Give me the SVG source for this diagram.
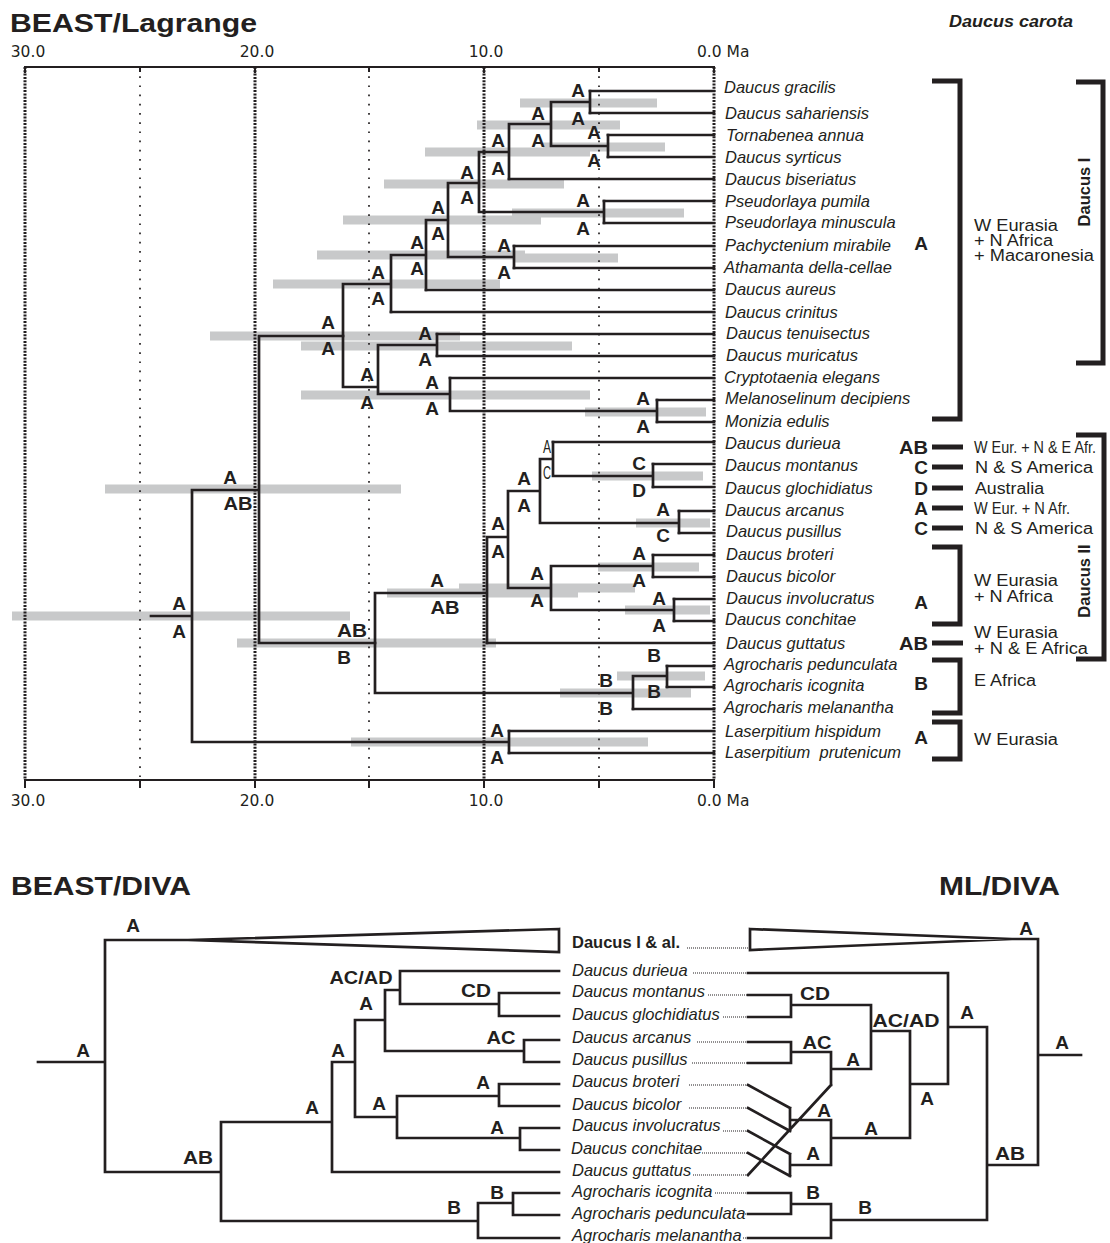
<svg xmlns="http://www.w3.org/2000/svg" width="1110" height="1243" viewBox="0 0 1110 1243">
<style>
.tr{stroke:#231f20;stroke-width:2.7;fill:none;stroke-linecap:square;stroke-linejoin:miter}
.bar{fill:#c8c9ca}
.g1{stroke:#231f20;stroke-width:3;stroke-dasharray:2 1.3;fill:none}
.g2{stroke:#231f20;stroke-width:1.7;stroke-dasharray:1.7 7.5;fill:none}
.ax{stroke:#231f20;stroke-width:2;fill:none}
.br{stroke:#231f20;stroke-width:5;fill:none;stroke-linejoin:miter}
.ld{stroke:#231f20;stroke-width:1.1;stroke-dasharray:1 1;fill:none}
.tx{font-family:"Liberation Sans",Arial,sans-serif;font-style:italic;font-size:16.5px;fill:#231f20}
.tb{font-family:"Liberation Sans",Arial,sans-serif;font-weight:bold;font-size:16.5px;fill:#231f20}
.nl{font-family:"Liberation Sans",Arial,sans-serif;font-weight:bold;font-size:19px;fill:#231f20;text-anchor:middle}
.sm{font-family:"Liberation Sans",Arial,sans-serif;font-size:19px;fill:#231f20;text-anchor:middle}
.rl{font-family:"Liberation Sans",Arial,sans-serif;font-weight:bold;font-size:19px;fill:#231f20;text-anchor:end}
.rg{font-family:"Liberation Sans",Arial,sans-serif;font-size:16px;fill:#231f20}
.ttl{font-family:"Liberation Sans",Arial,sans-serif;font-weight:bold;font-size:26px;fill:#231f20}
.num{font-family:"DejaVu Sans",sans-serif;font-size:15.5px;fill:#231f20}
</style>
<rect width="1110" height="1243" fill="#ffffff"/>

<g id="titles">
<text class="ttl" x="10" y="32" textLength="247" lengthAdjust="spacingAndGlyphs">BEAST/Lagrange</text>
<text class="tb" x="949" y="27" font-style="italic" font-size="16" textLength="124" lengthAdjust="spacingAndGlyphs">Daucus carota</text>
<text class="ttl" x="11" y="895" textLength="180" lengthAdjust="spacingAndGlyphs">BEAST/DIVA</text>
<text class="ttl" x="939" y="895" textLength="121" lengthAdjust="spacingAndGlyphs">ML/DIVA</text>
</g>

<g id="hpd-bars">
<rect class="bar" x="520" y="98.5" width="137" height="9"/>
<rect class="bar" x="477" y="120.5" width="143" height="9"/>
<rect class="bar" x="543" y="142.5" width="122" height="9"/>
<rect class="bar" x="425" y="147.5" width="165" height="9"/>
<rect class="bar" x="384" y="179.5" width="180" height="9"/>
<rect class="bar" x="512" y="208.5" width="172" height="9"/>
<rect class="bar" x="343" y="215.5" width="198" height="9"/>
<rect class="bar" x="317" y="250.5" width="208" height="9"/>
<rect class="bar" x="515" y="253.5" width="103" height="9"/>
<rect class="bar" x="273" y="279.5" width="227" height="9"/>
<rect class="bar" x="210" y="331.5" width="250" height="9"/>
<rect class="bar" x="301" y="341.5" width="271" height="9"/>
<rect class="bar" x="301" y="390.5" width="289" height="9"/>
<rect class="bar" x="585" y="407.5" width="121" height="9"/>
<rect class="bar" x="592" y="471.5" width="111" height="9"/>
<rect class="bar" x="105" y="484.5" width="296" height="9"/>
<rect class="bar" x="636" y="518.5" width="74" height="9"/>
<rect class="bar" x="598" y="562.5" width="101" height="9"/>
<rect class="bar" x="459" y="583.5" width="176" height="9"/>
<rect class="bar" x="387" y="588.5" width="191" height="9"/>
<rect class="bar" x="625" y="605.5" width="85" height="9"/>
<rect class="bar" x="237" y="638.5" width="259" height="9"/>
<rect class="bar" x="617" y="671.5" width="88" height="9"/>
<rect class="bar" x="560" y="688.5" width="131" height="9"/>
<rect class="bar" x="351" y="737.5" width="297" height="9"/>
<rect class="bar" x="12" y="611.5" width="338" height="9"/>
</g>

<g id="time-axis">
<path class="g1" d="M25 67V780M255 67V780M484 67V780M714 67V780"/>
<path class="g2" d="M140 67V780M369 67V780M599 67V780"/>
<path class="ax" d="M24 67H715M25 67V73M140 67V72M255 67V73M369 67V72M484 67V73M599 67V72M714 67V73"/>
<path class="ax" d="M24 780H715M25 780V788M140 780V788M255 780V788M369 780V788M484 780V788M599 780V788M714 780V788"/>
<text class="num" x="28" y="57" text-anchor="middle">30.0</text>
<text class="num" x="257" y="57" text-anchor="middle">20.0</text>
<text class="num" x="486" y="57" text-anchor="middle">10.0</text>
<text class="num" x="697" y="57">0.0 Ma</text>
<text class="num" x="28" y="806" text-anchor="middle">30.0</text>
<text class="num" x="257" y="806" text-anchor="middle">20.0</text>
<text class="num" x="486" y="806" text-anchor="middle">10.0</text>
<text class="num" x="697" y="806">0.0 Ma</text>
</g>

<g id="connectors">
<path class="tr" d="M590 91H714M590 113H714M608 135H714M608 157H714M509 179H714M604 201H714M604 223H714M514 246H714M514 268H714M426 290H714M391 312H714M437 334H714M437 356H714M450 378H714M657 400H714M657 422H714M553 442H714M653 464H714M653 487H714M679 511H714M679 533H714M653 555H714M653 577H714M674 599H714M674 621H714M487 643H714M667 666H714M667 687H714M633 709H714M509 731H714M509 753H714"/>
<path class="tr" d="M590 91V113M551 102H590M608 135V157M551 146H608M551 102V146M509 124H551M509 124V179M479 152H509M479 152V212H604M604 201V223M448 183V257M448 183H479M448 257H514M514 246V268M426 220V290M426 220H448M391 255V312M391 255H426M343 284V387M343 284H391M343 387H378M378 345V394M378 345H437M378 394H450M437 334V356M450 378V411H657M657 400V422"/>
<path class="tr" d="M259 336V643M259 336H343M259 643H375M192 490V742M192 490H259M192 742H509M151 616H192M509 731V753"/>
<path class="tr" d="M375 593V693M375 593H487M375 693H633M487 537V643M487 537H508M508 491V588M508 491H540M508 588H551M540 459V523M540 459H553M540 523H679M553 442V476H653M653 464V487M679 511V533M551 566V610M551 566H653M551 610H674M653 555V577M674 599V621M633 676V709M633 676H667M667 666V687"/>
<path class="tr" d="M559 929L188 940L559 952ZM105 940H188M38 1062H105M105 940V1172H221M221 1122V1221M221 1122H332M221 1221H478M332 1062V1172M332 1062H355M332 1172H559M355 1020V1117M355 1020H385M355 1117H397M385 990V1051M385 990H400M385 1051H524M400 971V1004M400 971H559M400 1004H499M499 993V1016M499 993H559M499 1016H559M524 1040V1062M524 1040H559M524 1062H559M397 1096V1138M397 1096H499M397 1138H520M499 1084V1106M499 1084H559M499 1106H559M520 1128V1150M520 1128H559M520 1150H559M478 1203V1238M478 1203H513M478 1238H559M513 1193V1215M513 1193H559M513 1215H559"/>
<path class="tr" d="M750 929L1012 939L750 950ZM1012 939H1038M1038 939V1165M1038 1055H1081M987 1165H1038M987 1027V1220M948 1027H987M831 1220H987M948 973V1084M748 973H948M910 1084H948M910 1031V1138M871 1031H910M831 1138H910M871 1005V1069M791 1005H871M831 1069H871M791 995V1017M748 995H791M748 1017H791M831 1052V1085M791 1052H831M831 1085L748 1175M791 1042V1063M748 1042H791M748 1063H791M831 1120V1165M790 1120H831M790 1165H831M790 1108V1131M790 1154V1176M748 1085L790 1108M748 1108L790 1131M748 1131L790 1154M748 1153L790 1176M791 1193V1214M748 1193H791M748 1214H791M791 1204H831M831 1204V1238M748 1238H831"/>
<path class="ld" d="M687 948H748M693 973H748M708 995H748M723 1017H748M697 1042H748M692 1063H748M689 1085H748M689 1108H748M723 1131H748M702 1153H748M693 1175H748M715 1193H748M745 1214H748M743 1238H748"/>
</g>

<g id="brackets">
<path class="br" d="M932 81H960V419H932"/>
<path class="br" d="M1076 82H1103V363H1076"/>
<path class="br" d="M932 447H963M932 467H963M932 488H963M932 508H963M932 528H963M932 643H963"/>
<path class="br" d="M932 547H960V624H932"/>
<path class="br" d="M932 660H960V713H932"/>
<path class="br" d="M932 722H960V759H932"/>
<path class="br" d="M1076 435H1104V659H1076"/>
<text class="tb" transform="translate(1090,192) rotate(-90)" text-anchor="middle">Daucus I</text>
<text class="tb" transform="translate(1090,581) rotate(-90)" text-anchor="middle">Daucus II</text>
</g>

<g id="area-labels">
<text class="rl" x="928" y="250">A</text>
<text class="rl" x="928" y="454" textLength="29" lengthAdjust="spacingAndGlyphs">AB</text>
<text class="rl" x="928" y="474">C</text>
<text class="rl" x="928" y="495">D</text>
<text class="rl" x="928" y="515">A</text>
<text class="rl" x="928" y="535">C</text>
<text class="rl" x="928" y="609">A</text>
<text class="rl" x="928" y="650" textLength="29" lengthAdjust="spacingAndGlyphs">AB</text>
<text class="rl" x="928" y="690">B</text>
<text class="rl" x="928" y="744">A</text>
<text class="rg" x="974" y="231" textLength="84" lengthAdjust="spacingAndGlyphs">W Eurasia</text>
<text class="rg" x="974" y="246" textLength="79" lengthAdjust="spacingAndGlyphs">+ N Africa</text>
<text class="rg" x="974" y="261" textLength="120" lengthAdjust="spacingAndGlyphs">+ Macaronesia</text>
<text class="rg" x="974" y="453" textLength="122" lengthAdjust="spacingAndGlyphs">W Eur. + N &amp; E Afr.</text>
<text class="rg" x="975" y="473" textLength="118" lengthAdjust="spacingAndGlyphs">N &amp; S America</text>
<text class="rg" x="975" y="494" textLength="69" lengthAdjust="spacingAndGlyphs">Australia</text>
<text class="rg" x="974" y="514" textLength="96" lengthAdjust="spacingAndGlyphs">W Eur. + N Afr.</text>
<text class="rg" x="975" y="534" textLength="118" lengthAdjust="spacingAndGlyphs">N &amp; S America</text>
<text class="rg" x="974" y="586" textLength="84" lengthAdjust="spacingAndGlyphs">W Eurasia</text>
<text class="rg" x="974" y="602" textLength="79" lengthAdjust="spacingAndGlyphs">+ N Africa</text>
<text class="rg" x="974" y="638" textLength="84" lengthAdjust="spacingAndGlyphs">W Eurasia</text>
<text class="rg" x="974" y="654" textLength="114" lengthAdjust="spacingAndGlyphs">+ N &amp; E Africa</text>
<text class="rg" x="974" y="686" textLength="62" lengthAdjust="spacingAndGlyphs">E Africa</text>
<text class="rg" x="974" y="745" textLength="84" lengthAdjust="spacingAndGlyphs">W Eurasia</text>
</g>

<g id="taxa-top">
<g id="t-gracilis"><text class="tx" x="724" y="93">Daucus gracilis</text></g>
<g id="t-sahariensis"><text class="tx" x="725" y="119">Daucus sahariensis</text></g>
<g id="t-tornabenea"><text class="tx" x="726" y="141">Tornabenea annua</text></g>
<g id="t-syrticus"><text class="tx" x="725" y="163">Daucus syrticus</text></g>
<g id="t-biseriatus"><text class="tx" x="725" y="185">Daucus biseriatus</text></g>
<g id="t-pumila"><text class="tx" x="725" y="207">Pseudorlaya pumila</text></g>
<g id="t-minuscula"><text class="tx" x="725" y="228">Pseudorlaya minuscula</text></g>
<g id="t-pachyctenium"><text class="tx" x="725" y="251">Pachyctenium mirabile</text></g>
<g id="t-athamanta"><text class="tx" x="724" y="273">Athamanta della-cellae</text></g>
<g id="t-aureus"><text class="tx" x="725" y="295">Daucus aureus</text></g>
<g id="t-crinitus"><text class="tx" x="725" y="318">Daucus crinitus</text></g>
<g id="t-tenuisectus"><text class="tx" x="726" y="339">Daucus tenuisectus</text></g>
<g id="t-muricatus"><text class="tx" x="726" y="361">Daucus muricatus</text></g>
<g id="t-cryptotaenia"><text class="tx" x="724" y="383">Cryptotaenia elegans</text></g>
<g id="t-melanoselinum"><text class="tx" x="725" y="404">Melanoselinum decipiens</text></g>
<g id="t-monizia"><text class="tx" x="725" y="427">Monizia edulis</text></g>
<g id="t-durieua"><text class="tx" x="725" y="449">Daucus durieua</text></g>
<g id="t-montanus"><text class="tx" x="725" y="471">Daucus montanus</text></g>
<g id="t-glochidiatus"><text class="tx" x="725" y="494">Daucus glochidiatus</text></g>
<g id="t-arcanus"><text class="tx" x="725" y="516">Daucus arcanus</text></g>
<g id="t-pusillus"><text class="tx" x="726" y="537">Daucus pusillus</text></g>
<g id="t-broteri"><text class="tx" x="726" y="560">Daucus broteri</text></g>
<g id="t-bicolor"><text class="tx" x="726" y="582">Daucus bicolor</text></g>
<g id="t-involucratus"><text class="tx" x="726" y="604">Daucus involucratus</text></g>
<g id="t-conchitae"><text class="tx" x="725" y="625">Daucus conchitae</text></g>
<g id="t-guttatus"><text class="tx" x="726" y="649">Daucus guttatus</text></g>
<g id="t-pedunculata"><text class="tx" x="724" y="670">Agrocharis pedunculata</text></g>
<g id="t-icognita"><text class="tx" x="724" y="691">Agrocharis icognita</text></g>
<g id="t-melanantha"><text class="tx" x="724" y="713">Agrocharis melanantha</text></g>
<g id="t-hispidum"><text class="tx" x="725" y="737">Laserpitium hispidum</text></g>
<g id="t-prutenicum"><text class="tx" x="725" y="758" xml:space="preserve">Laserpitium  prutenicum</text></g>
</g>

<g id="nodes-top">
<g id="n1"><text class="nl" x="578" y="97">A</text><text class="nl" x="578" y="125">A</text></g>
<g id="n2"><text class="nl" x="594" y="139">A</text><text class="nl" x="594" y="167">A</text></g>
<g id="n3"><text class="nl" x="538" y="120">A</text><text class="nl" x="538" y="147">A</text></g>
<g id="n4"><text class="nl" x="498" y="147">A</text><text class="nl" x="498" y="175">A</text></g>
<g id="n5"><text class="nl" x="467" y="179">A</text><text class="nl" x="467" y="204">A</text></g>
<g id="np"><text class="nl" x="583" y="207">A</text><text class="nl" x="583" y="235">A</text></g>
<g id="n6"><text class="nl" x="438" y="214">A</text><text class="nl" x="438" y="240">A</text></g>
<g id="npa"><text class="nl" x="504" y="252">A</text><text class="nl" x="504" y="279">A</text></g>
<g id="n7"><text class="nl" x="417" y="249">A</text><text class="nl" x="417" y="275">A</text></g>
<g id="n8"><text class="nl" x="378" y="279">A</text><text class="nl" x="378" y="305">A</text></g>
<g id="n9"><text class="nl" x="328" y="329">A</text><text class="nl" x="328" y="355">A</text></g>
<g id="ntm"><text class="nl" x="425" y="340">A</text><text class="nl" x="425" y="366">A</text></g>
<g id="n10"><text class="nl" x="367" y="381">A</text><text class="nl" x="367" y="409">A</text></g>
<g id="n12"><text class="nl" x="432" y="389">A</text><text class="nl" x="432" y="415">A</text></g>
<g id="n11"><text class="nl" x="643" y="405">A</text><text class="nl" x="643" y="433">A</text></g>
<g id="nr1"><text class="nl" x="230" y="484">A</text><text class="nl" x="238" y="510" textLength="29" lengthAdjust="spacingAndGlyphs">AB</text></g>
<g id="nroot"><text class="nl" x="179" y="610">A</text><text class="nl" x="179" y="638">A</text></g>
<g id="nda"><text class="nl" x="352" y="637" textLength="30" lengthAdjust="spacingAndGlyphs">AB</text><text class="nl" x="344" y="664">B</text></g>
<g id="ndii"><text class="nl" x="437" y="587">A</text><text class="nl" x="445" y="614" textLength="29" lengthAdjust="spacingAndGlyphs">AB</text></g>
<g id="ndiia"><text class="nl" x="498" y="530">A</text><text class="nl" x="498" y="558">A</text></g>
<g id="nb"><text class="nl" x="524" y="485">A</text><text class="nl" x="524" y="512">A</text></g>
<g id="nc"><text class="sm" x="547" y="453" textLength="8" lengthAdjust="spacingAndGlyphs">A</text><text class="sm" x="547" y="479" textLength="8" lengthAdjust="spacingAndGlyphs">C</text></g>
<g id="nd"><text class="nl" x="639" y="470">C</text><text class="nl" x="639" y="497">D</text></g>
<g id="ne"><text class="nl" x="663" y="516">A</text><text class="nl" x="663" y="542">C</text></g>
<g id="nf"><text class="nl" x="537" y="580">A</text><text class="nl" x="537" y="607">A</text></g>
<g id="ng"><text class="nl" x="639" y="560">A</text><text class="nl" x="639" y="587">A</text></g>
<g id="nh"><text class="nl" x="659" y="605">A</text><text class="nl" x="659" y="632">A</text></g>
<g id="ni"><text class="nl" x="606" y="687">B</text><text class="nl" x="606" y="715">B</text></g>
<g id="nj"><text class="nl" x="654" y="662">B</text><text class="nl" x="654" y="698">B</text></g>
<g id="nl"><text class="nl" x="497" y="737">A</text><text class="nl" x="497" y="764">A</text></g>
</g>

<g id="taxa-bottom">
<g id="b-daucusI"><text class="tb" x="572" y="948">Daucus I &amp; al.</text></g>
<g id="b-durieua"><text class="tx" x="572" y="976">Daucus durieua</text></g>
<g id="b-montanus"><text class="tx" x="572" y="997">Daucus montanus</text></g>
<g id="b-glochidiatus"><text class="tx" x="572" y="1020">Daucus glochidiatus</text></g>
<g id="b-arcanus"><text class="tx" x="572" y="1043">Daucus arcanus</text></g>
<g id="b-pusillus"><text class="tx" x="572" y="1065">Daucus pusillus</text></g>
<g id="b-broteri"><text class="tx" x="572" y="1087">Daucus broteri</text></g>
<g id="b-bicolor"><text class="tx" x="572" y="1110">Daucus bicolor</text></g>
<g id="b-involucratus"><text class="tx" x="572" y="1131">Daucus involucratus</text></g>
<g id="b-conchitae"><text class="tx" x="571" y="1154">Daucus conchitae</text></g>
<g id="b-guttatus"><text class="tx" x="572" y="1176">Daucus guttatus</text></g>
<g id="b-icognita"><text class="tx" x="572" y="1197">Agrocharis icognita</text></g>
<g id="b-pedunculata"><text class="tx" x="572" y="1219">Agrocharis pedunculata</text></g>
<g id="b-melanantha"><text class="tx" x="572" y="1241">Agrocharis melanantha</text></g>
</g>

<g id="nodes-beast-diva">
<g id="bd1"><text class="nl" x="83" y="1057">A</text></g>
<g id="bd2"><text class="nl" x="133" y="932">A</text></g>
<g id="bd3"><text class="nl" x="198" y="1164" textLength="30" lengthAdjust="spacingAndGlyphs">AB</text></g>
<g id="bd4"><text class="nl" x="312" y="1114">A</text></g>
<g id="bd5"><text class="nl" x="338" y="1057">A</text></g>
<g id="bd6"><text class="nl" x="366" y="1010">A</text></g>
<g id="bd7"><text class="nl" x="361" y="984" textLength="63" lengthAdjust="spacingAndGlyphs">AC/AD</text></g>
<g id="bd8"><text class="nl" x="476" y="997" textLength="30" lengthAdjust="spacingAndGlyphs">CD</text></g>
<g id="bd9"><text class="nl" x="501" y="1044" textLength="29" lengthAdjust="spacingAndGlyphs">AC</text></g>
<g id="bd10"><text class="nl" x="483" y="1089">A</text></g>
<g id="bd11"><text class="nl" x="379" y="1110">A</text></g>
<g id="bd12"><text class="nl" x="497" y="1134">A</text></g>
<g id="bd13"><text class="nl" x="497" y="1199">B</text></g>
<g id="bd14"><text class="nl" x="454" y="1214">B</text></g>
</g>

<g id="nodes-ml-diva">
<g id="md1"><text class="nl" x="1026" y="935">A</text></g>
<g id="md2"><text class="nl" x="1062" y="1049">A</text></g>
<g id="md3"><text class="nl" x="1010" y="1160" textLength="30" lengthAdjust="spacingAndGlyphs">AB</text></g>
<g id="md4"><text class="nl" x="967" y="1019">A</text></g>
<g id="md5"><text class="nl" x="865" y="1214">B</text></g>
<g id="md6"><text class="nl" x="927" y="1105">A</text></g>
<g id="md7"><text class="nl" x="906" y="1027" textLength="67" lengthAdjust="spacingAndGlyphs">AC/AD</text></g>
<g id="md8"><text class="nl" x="871" y="1135">A</text></g>
<g id="md9"><text class="nl" x="815" y="1000" textLength="30" lengthAdjust="spacingAndGlyphs">CD</text></g>
<g id="md10"><text class="nl" x="853" y="1066">A</text></g>
<g id="md11"><text class="nl" x="817" y="1049" textLength="29" lengthAdjust="spacingAndGlyphs">AC</text></g>
<g id="md12"><text class="nl" x="824" y="1117">A</text></g>
<g id="md13"><text class="nl" x="813" y="1160">A</text></g>
<g id="md14"><text class="nl" x="813" y="1199">B</text></g>
</g>
</svg>
